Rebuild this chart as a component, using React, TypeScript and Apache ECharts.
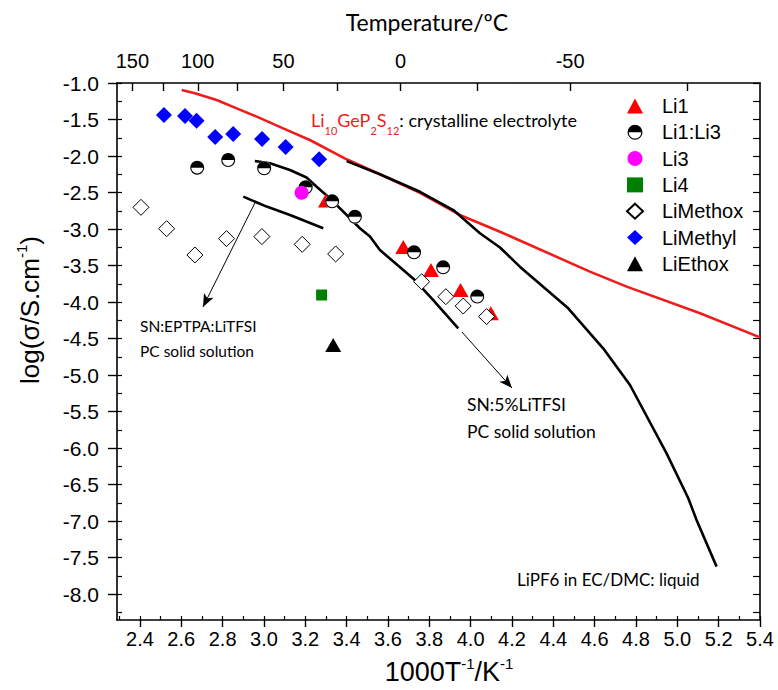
import React, { useEffect, useRef } from 'react';
import * as echarts from 'echarts';

// ---------- data (x = 1000/T in K^-1, y = log(sigma)) ----------
const li1 = [[3.30, -2.61], [3.674, -3.247], [3.808, -3.562], [3.951, -3.836], [4.098, -4.155]];
const li1li3 = [[2.677, -2.16], [2.827, -2.055], [3.001, -2.168], [3.202, -2.429], [3.33, -2.621], [3.44, -2.832], [3.726, -3.319], [3.867, -3.525], [4.032, -3.926]];
const li3 = [[3.182, -2.503]];
const li4 = [[3.279, -3.904]];
const liMethox = [[2.405, -2.703], [2.529, -2.996], [2.666, -3.356], [2.819, -3.132], [2.99, -3.104], [3.185, -3.21], [3.347, -3.342], [3.763, -3.722], [3.88, -3.927], [3.964, -4.055], [4.077, -4.2]];
const liMethyl = [[2.516, -1.438], [2.618, -1.452], [2.674, -1.516], [2.764, -1.74], [2.851, -1.699], [2.991, -1.767], [3.105, -1.877], [3.267, -2.045]];
const liEthox = [[3.335, -4.59]];

const lgpsLine = [[2.602, -1.096], [2.666, -1.141], [2.771, -1.233], [2.868, -1.347], [2.965, -1.46], [3.093, -1.621], [3.222, -1.781], [3.4, -2.045], [3.561, -2.25], [3.755, -2.505], [3.948, -2.808], [4.142, -3.037], [4.577, -3.584], [4.755, -3.789], [5.11, -4.155], [5.4, -4.484]];
const lipf6Line = [[3.4, -2.07], [3.561, -2.25], [3.755, -2.49], [3.916, -2.74], [4.045, -3.059], [4.142, -3.253], [4.238, -3.516], [4.472, -4.086], [4.641, -4.634], [4.771, -5.137], [4.948, -6.073], [5.053, -6.688], [5.093, -6.986], [5.19, -7.625]];
const sn5Line = [[2.956, -2.068], [3.029, -2.1], [3.126, -2.192], [3.206, -2.295], [3.255, -2.421], [3.319, -2.58], [3.416, -2.853], [3.464, -2.99], [3.513, -3.104], [3.561, -3.288], [3.674, -3.562], [3.73, -3.699], [3.819, -3.973], [3.94, -4.36]];
const eptpaLine = [[2.9, -2.557], [3.013, -2.693], [3.126, -2.808], [3.287, -2.99]];

const arrowEptpa = [[2.956, -2.644], [2.705, -4.068]];
const arrowSn5 = [[3.958, -4.411], [4.2, -5.178]];

// ---------- axes ----------
const X_MIN = 2.289;
const X_MAX = 5.4;
const Y_MIN = -8.356;
const Y_MAX = -1.0;
const xTickValues = [2.4, 2.6, 2.8, 3.0, 3.2, 3.4, 3.6, 3.8, 4.0, 4.2, 4.4, 4.6, 4.8, 5.0, 5.2, 5.4];
const yTickValues = [-8.0, -7.5, -7.0, -6.5, -6.0, -5.5, -5.0, -4.5, -4.0, -3.5, -3.0, -2.5, -2.0, -1.5, -1.0];
const topTempTicks = [150, 125, 100, 75, 50, 25, 0, -25, -50, -75];
const topTempLabels = [150, 100, 50, 0, -50];

const toInvT = (t: number) => 1000 / (t + 273.15);
const xMinor: number[] = [];
for (let i = 23; i <= 54; i++) xMinor.push(i / 10);
const yMinor: number[] = [];
for (let i = -33; i <= -4; i++) yMinor.push(i / 4);

const HALF = 'path://M-10,0A10,10 0 0 1 10,0Z M10,0A10,10 0 0 1 -10,0L-8.4,0A8.4,8.4 0 0 0 8.4,0Z';
const NARROW = "'Liberation Sans Narrow', 'Arial Narrow', 'Liberation Sans', sans-serif";
const ARIAL = "'Liberation Sans', Arial, sans-serif";
const CAL = "Lato, 'Open Sans', sans-serif";

const RED = '#ee1c1c';

export default function App() {
  const ref = useRef<HTMLDivElement>(null);
  useEffect(() => {
    const chart = echarts.init(ref.current!, null, { renderer: 'svg' });
    const lineSeries = (data: number[][], color: string) => ({
      type: 'line', data, symbol: 'none', showSymbol: false, silent: true,
      lineStyle: { color, width: 2.6 }, z: 1,
    });
    const option: any = {
      animation: false,
      backgroundColor: '#fff',
      grid: { left: 117, right: 18, top: 83, bottom: 70, containLabel: false },
      xAxis: [
        {
          type: 'value', position: 'bottom', min: X_MIN, max: X_MAX,
          axisLine: { show: true, onZero: false, lineStyle: { color: '#000', width: 1.6 } },
          axisTick: { show: true, inside: false, length: 7, customValues: xTickValues, lineStyle: { color: '#000', width: 1.4 } },
          axisLabel: { customValues: xTickValues, formatter: (v: number) => v.toFixed(1), color: '#000', fontSize: 20, fontFamily: NARROW, margin: 9 },
          splitLine: { show: false },
        },
        {
          type: 'value', position: 'top', min: X_MIN, max: X_MAX,
          axisLine: { show: true, onZero: false, lineStyle: { color: '#000', width: 1.6 } },
          axisTick: { show: true, inside: true, length: 8, customValues: topTempTicks.map(toInvT), lineStyle: { color: '#000', width: 1.4 } },
          axisLabel: { customValues: topTempLabels.map(toInvT), formatter: (v: number) => String(Math.round(1000 / v - 273.15)), color: '#000', fontSize: 20, fontFamily: NARROW, margin: 12 },
          splitLine: { show: false },
        },
        {
          type: 'value', position: 'bottom', min: X_MIN, max: X_MAX,
          axisLine: { show: false, onZero: false },
          axisTick: { show: true, inside: true, length: 4, customValues: xMinor, lineStyle: { color: '#000', width: 1.2 } },
          axisLabel: { show: false },
          splitLine: { show: false },
        },
      ],
      yAxis: [
        {
          type: 'value', position: 'left', min: Y_MIN, max: Y_MAX,
          axisLine: { show: true, onZero: false, lineStyle: { color: '#000', width: 1.6 } },
          axisTick: { show: true, inside: false, length: 9, customValues: yTickValues, lineStyle: { color: '#000', width: 1.4 } },
          axisLabel: { customValues: yTickValues, formatter: (v: number) => v.toFixed(1), color: '#000', fontSize: 21, fontFamily: ARIAL, margin: 18 },
          splitLine: { show: false },
        },
        {
          type: 'value', position: 'left', min: Y_MIN, max: Y_MAX,
          axisLine: { show: false, onZero: false },
          axisTick: { show: true, inside: true, length: 5, customValues: yMinor, lineStyle: { color: '#000', width: 1.2 } },
          axisLabel: { show: false },
          splitLine: { show: false },
        },
        {
          type: 'value', position: 'right', min: Y_MIN, max: Y_MAX,
          axisLine: { show: true, onZero: false, lineStyle: { color: '#000', width: 1.6 } },
          axisTick: { show: true, inside: true, length: 7, customValues: yMinor, lineStyle: { color: '#000', width: 1.2 } },
          axisLabel: { show: false },
          splitLine: { show: false },
        },
      ],
      legend: {
        orient: 'vertical', left: 621, top: 91, selectedMode: false,
        itemWidth: 16, itemHeight: 15, itemGap: 6.3,
        textStyle: { fontSize: 20, fontFamily: ARIAL, color: '#000', lineHeight: 15, padding: [0, 0, 0, 14] },
        data: [
          { name: 'Li1', icon: 'triangle' },
          { name: 'Li1:Li3', icon: HALF },
          { name: 'Li3', icon: 'circle' },
          { name: 'Li4', icon: 'rect' },
          { name: 'LiMethox', icon: 'diamond' },
          { name: 'LiMethyl', icon: 'diamond' },
          { name: 'LiEthox', icon: 'triangle' },
        ],
      },
      series: [
        lineSeries(lgpsLine, RED),
        lineSeries(lipf6Line, '#000'),
        lineSeries(sn5Line, '#000'),
        lineSeries(eptpaLine, '#000'),
        {
          type: 'line', data: [], silent: true,
          markLine: {
            silent: true, symbol: ['none', 'arrow'], symbolSize: [8, 13],
            label: { show: false },
            lineStyle: { color: '#000', width: 1, type: 'solid', opacity: 1 },
            data: [
              [{ coord: arrowEptpa[0] }, { coord: arrowEptpa[1] }],
              [{ coord: arrowSn5[0] }, { coord: arrowSn5[1] }],
            ],
          },
        },
        { name: 'Li1', type: 'scatter', symbol: 'triangle', symbolSize: [16, 14], itemStyle: { color: '#ff0000', opacity: 1 }, data: li1 },
        { name: 'Li1:Li3 bg', type: 'scatter', symbol: 'circle', symbolSize: 14, itemStyle: { color: '#fff', opacity: 1 }, data: li1li3, silent: true },
        { name: 'Li1:Li3', type: 'scatter', symbol: HALF, symbolSize: 14, itemStyle: { color: '#000', opacity: 1 }, data: li1li3 },
        { name: 'Li3', type: 'scatter', symbol: 'circle', symbolSize: 14, itemStyle: { color: '#ff00ff', opacity: 1 }, data: li3 },
        { name: 'Li4', type: 'scatter', symbol: 'rect', symbolSize: 11, itemStyle: { color: '#008000', opacity: 1 }, data: li4 },
        { name: 'LiMethox', type: 'scatter', symbol: 'diamond', symbolSize: 16, itemStyle: { color: '#fff', borderColor: '#000', borderWidth: 1, opacity: 1 }, data: liMethox },
        { name: 'LiMethyl', type: 'scatter', symbol: 'diamond', symbolSize: 16, itemStyle: { color: '#0000ff', opacity: 1 }, data: liMethyl },
        { name: 'LiEthox', type: 'scatter', symbol: 'triangle', symbolSize: [16, 14], itemStyle: { color: '#000', opacity: 1 }, data: liEthox },
      ],
      graphic: [
        {
          type: 'text', x: 427, y: 22,
          style: { text: 'Temperature/ºC', fontSize: 23, fontFamily: CAL, fill: '#000', align: 'center', verticalAlign: 'middle' },
        },
        {
          type: 'text', x: 449, y: 672,
          style: {
            text: '{n|1000T}{s|-1}{n|/K}{s|-1}', align: 'center', verticalAlign: 'middle',
            rich: {
              n: { fontSize: 27, fontFamily: NARROW, fill: '#000', lineHeight: 32 },
              s: { fontSize: 15, fontFamily: NARROW, fill: '#000', lineHeight: 16, verticalAlign: 'top' },
            },
          },
        },
        {
          type: 'text', x: 30, y: 310, rotation: Math.PI / 2,
          style: {
            text: '{n|log(σ/S.cm}{s|-1}{n|)}', align: 'center', verticalAlign: 'middle',
            rich: {
              n: { fontSize: 26, fontFamily: ARIAL, fill: '#000', lineHeight: 32 },
              s: { fontSize: 15, fontFamily: ARIAL, fill: '#000', lineHeight: 16, verticalAlign: 'top' },
            },
          },
        },
        {
          type: 'text', x: 311, y: 120,
          style: {
            text: '{r|Li}{rs|10}{r|GeP}{rs|2}{r|S}{rs|12}{k|: crystalline electrolyte}', align: 'left', verticalAlign: 'middle',
            rich: {
              r: { fontSize: 18, fontFamily: CAL, fill: RED, lineHeight: 32 },
              rs: { fontSize: 11, fontFamily: CAL, fill: RED, lineHeight: 12, verticalAlign: 'bottom' },
              k: { fontSize: 18, fontFamily: CAL, fill: '#000', lineHeight: 32 },
            },
          },
        },
        { type: 'text', x: 140, y: 326, style: { text: 'SN:EPTPA:LiTFSI', fontSize: 15.5, fontFamily: CAL, fill: '#000', verticalAlign: 'middle' } },
        { type: 'text', x: 140, y: 351, style: { text: 'PC solid solution', fontSize: 15.5, fontFamily: CAL, fill: '#000', verticalAlign: 'middle' } },
        { type: 'text', x: 467, y: 404, style: { text: 'SN:5%LiTFSI', fontSize: 17.5, fontFamily: CAL, fill: '#000', verticalAlign: 'middle' } },
        { type: 'text', x: 467, y: 431, style: { text: 'PC solid solution', fontSize: 17.5, fontFamily: CAL, fill: '#000', verticalAlign: 'middle' } },
        { type: 'text', x: 517, y: 579, style: { text: 'LiPF6 in EC/DMC: liquid', fontSize: 17, fontFamily: CAL, fill: '#000', verticalAlign: 'middle' } },
      ],
    };
    chart.setOption(option);
    return () => chart.dispose();
  }, []);
  return <div ref={ref} style={{ position: 'fixed', left: 0, top: 0, width: 778, height: 690 }} />;
}
